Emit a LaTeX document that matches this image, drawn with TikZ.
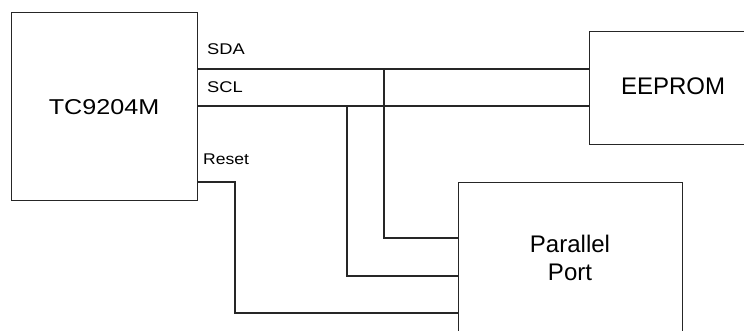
\documentclass[tikz,border=0pt]{standalone}
\usepackage{fontspec}
\setmainfont{Liberation Sans}
\begin{document}
\begin{tikzpicture}[x=1pt,y=-1pt,
  blk/.style={draw=black!85,line width=1.2pt,inner sep=0pt,anchor=north west},
  wire/.style={draw=black!85,line width=1.2pt},
  sig/.style={inner sep=0pt,font=\fontsize{15.5}{18}\selectfont},
  big/.style={inner sep=0pt,font=\fontsize{24}{28}\selectfont}]
\useasboundingbox (0,0) rectangle (744,330);
\clip (0,0) rectangle (744,330);
% boxes
\node[blk,minimum width=186pt,minimum height=188pt] (tc) at (11,12) {};
\node[blk,minimum width=168pt,minimum height=113pt] (ee) at (589,31) {};
\node[blk,minimum width=224pt,minimum height=160pt] (pp) at (458,182) {};
% texts
\node[inner sep=0pt,anchor=base,font=\fontsize{21.5}{24}\selectfont] (tct) at (104,114) {\scalebox{1.17}[1]{TC9204M}};
\node[big,anchor=base] (eet) at (673,94) {EEPROM};
\node[big,anchor=base,align=center] (ppt) at (570,280) {Parallel\\Port};
\node[sig,anchor=base west] (sdal) at (207,54) {\scalebox{1.18}[1]{SDA}};
\node[sig,anchor=base west] (scll) at (207,92) {\scalebox{1.18}[1]{SCL}};
\node[sig,anchor=base west] (rstl) at (203,164) {\scalebox{1.13}[1]{Reset}};
% connection points
\coordinate (sdaA) at (197,69);
\coordinate (sdaB) at (589,69);
\coordinate (sclA) at (197,106);
\coordinate (sclB) at (589,106);
\coordinate (rstA) at (197,182);
\coordinate (j1) at (384,69);
\coordinate (j2) at (347,106);
\coordinate (p1) at (458,238);
\coordinate (p2) at (458,276);
\coordinate (p3) at (458,313);
% wires
\draw[wire] (sdaA) -- (sdaB);
\draw[wire] (sclA) -- (sclB);
\draw[wire] (j1) |- (p1);
\draw[wire] (j2) |- (p2);
\draw[wire] (rstA) -- (235,182) |- (p3);
\end{tikzpicture}
\end{document}
